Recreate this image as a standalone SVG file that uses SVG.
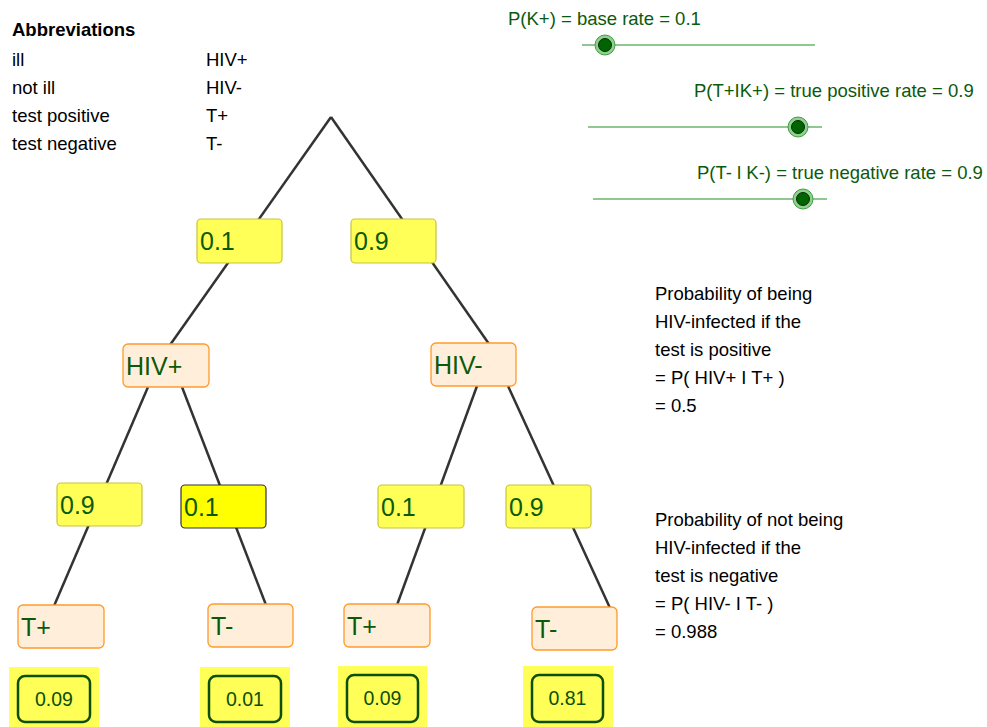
<svg xmlns="http://www.w3.org/2000/svg" width="987" height="727" viewBox="0 0 987 727">
<style>
  .txt{font-family:"Liberation Sans",Arial,sans-serif;font-size:18.5px;fill:#000}
  .bold{font-weight:bold}
  .gtxt{font-family:"Liberation Sans",Arial,sans-serif;font-size:18.5px;fill:#0b5a0b}
  .btxt{font-family:"Liberation Sans",Arial,sans-serif;font-size:25px;fill:#0b5a0b}
  .rtxt{font-family:"Liberation Sans",Arial,sans-serif;font-size:19.5px;fill:#0b4f0b;text-anchor:middle}
  .prob{fill:#ffff57;stroke:#c9c43a;stroke-width:1.2}
  .probsel{fill:#ffff00;stroke:#333333;stroke-width:1.2}
  .node{fill:#ffeed9;stroke:#ff9a2a;stroke-width:1.3}
  .resbg{fill:#ffff57}
  .res{fill:none;stroke:#0b4f0b;stroke-width:2.5}
  .edge{stroke:#333333;stroke-width:2.5;fill:none}
  .track{stroke:#6db56d;stroke-width:1.5}
  .knobo{fill:#8fd08f;stroke:#3f9f3f;stroke-width:1}
  .knobi{fill:#006400;stroke:#0a2a0a;stroke-width:1}
</style>

<g id="abbreviations">
  <text class="txt bold" x="12" y="36">Abbreviations</text>
  <text class="txt" x="12" y="66">ill</text>
  <text class="txt" x="12" y="94">not ill</text>
  <text class="txt" x="12" y="122">test positive</text>
  <text class="txt" x="12" y="150">test negative</text>
  <text class="txt" x="206" y="66">HIV+</text>
  <text class="txt" x="206" y="94">HIV-</text>
  <text class="txt" x="206" y="122">T+</text>
  <text class="txt" x="206" y="150">T-</text>
</g>

<g id="sliders">
  <g id="slider-base-rate">
    <text class="gtxt" x="508" y="25">P(K+) = base rate = 0.1</text>
    <line class="track" x1="582" y1="45" x2="815" y2="45"/>
    <circle class="knobo" cx="605" cy="45" r="10"/>
    <circle class="knobi" cx="605" cy="45" r="6.5"/>
  </g>
  <g id="slider-tpr">
    <text class="gtxt" x="694" y="97">P(T+IK+) = true positive rate = 0.9</text>
    <line class="track" x1="588" y1="127" x2="822" y2="127"/>
    <circle class="knobo" cx="798" cy="127" r="10"/>
    <circle class="knobi" cx="798" cy="127" r="6.5"/>
  </g>
  <g id="slider-tnr">
    <text class="gtxt" x="697" y="179">P(T- l K-) = true negative rate = 0.9</text>
    <line class="track" x1="593" y1="199" x2="827" y2="199"/>
    <circle class="knobo" cx="803" cy="199" r="10"/>
    <circle class="knobi" cx="803" cy="199" r="6.5"/>
  </g>
</g>

<g id="connectors">
  <line class="edge" x1="331" y1="117" x2="170" y2="345"/>
  <line class="edge" x1="331" y1="117" x2="489" y2="344"/>
  <line class="edge" x1="148" y1="387" x2="54" y2="606"/>
  <line class="edge" x1="182" y1="387" x2="266" y2="605"/>
  <line class="edge" x1="477" y1="386" x2="397" y2="605"/>
  <line class="edge" x1="508" y1="386" x2="610" y2="608"/>
</g>

<g id="p-hivpos">
  <rect class="prob" x="197" y="219" width="85" height="44" rx="4"/>
  <text class="btxt" x="200" y="250">0.1</text>
</g>
<g id="p-hivneg">
  <rect class="prob" x="351" y="219" width="85" height="44" rx="4"/>
  <text class="btxt" x="354" y="250">0.9</text>
</g>

<g id="hivpos">
  <rect class="node" x="123" y="344" width="86" height="43" rx="5"/>
  <text class="btxt" x="126" y="375">HIV+</text>
</g>
<g id="hivneg">
  <rect class="node" x="431" y="343" width="85" height="43" rx="5"/>
  <text class="btxt" x="434" y="374">HIV-</text>
</g>

<g id="p-tpos-hivpos">
  <rect class="prob" x="57" y="483" width="85" height="43" rx="4"/>
  <text class="btxt" x="60" y="514">0.9</text>
</g>
<g id="p-tneg-hivpos">
  <rect class="probsel" x="181" y="485" width="85" height="43" rx="4"/>
  <text class="btxt" x="184" y="516">0.1</text>
</g>
<g id="p-tpos-hivneg">
  <rect class="prob" x="378" y="485" width="86" height="43" rx="4"/>
  <text class="btxt" x="381" y="516">0.1</text>
</g>
<g id="p-tneg-hivneg">
  <rect class="prob" x="506" y="485" width="85" height="43" rx="4"/>
  <text class="btxt" x="509" y="516">0.9</text>
</g>

<g id="tpos-1">
  <rect class="node" x="18" y="605" width="86" height="43" rx="5"/>
  <text class="btxt" x="21" y="636">T+</text>
</g>
<g id="tneg-1">
  <rect class="node" x="208" y="604" width="85" height="43" rx="5"/>
  <text class="btxt" x="211" y="635">T-</text>
</g>
<g id="tpos-2">
  <rect class="node" x="344" y="604" width="86" height="43" rx="5"/>
  <text class="btxt" x="347" y="635">T+</text>
</g>
<g id="tneg-2">
  <rect class="node" x="532" y="607" width="85" height="43" rx="5"/>
  <text class="btxt" x="535" y="638">T-</text>
</g>

<g id="res-1">
  <rect class="resbg" x="9" y="667" width="90" height="60"/>
  <rect class="res" x="18" y="676" width="72" height="46" rx="7"/>
  <text class="rtxt" x="54" y="706">0.09</text>
</g>
<g id="res-2">
  <rect class="resbg" x="200" y="667" width="90" height="60"/>
  <rect class="res" x="209" y="676" width="72" height="46" rx="7"/>
  <text class="rtxt" x="245" y="706">0.01</text>
</g>
<g id="res-3">
  <rect class="resbg" x="338" y="666" width="89" height="61"/>
  <rect class="res" x="347" y="675" width="71" height="47" rx="7"/>
  <text class="rtxt" x="382.500" y="705">0.09</text>
</g>
<g id="res-4">
  <rect class="resbg" x="523" y="666" width="90" height="61"/>
  <rect class="res" x="532" y="675" width="71" height="47" rx="7"/>
  <text class="rtxt" x="567.500" y="705">0.81</text>
</g>

<g id="result-positive">
  <text class="txt" x="655" y="300">Probability of being</text>
  <text class="txt" x="655" y="328">HIV-infected if the</text>
  <text class="txt" x="655" y="356">test is positive</text>
  <text class="txt" x="655" y="384">= P( HIV+ I T+ )</text>
  <text class="txt" x="655" y="412">= 0.5</text>
</g>
<g id="result-negative">
  <text class="txt" x="655" y="526">Probability of not being</text>
  <text class="txt" x="655" y="554">HIV-infected if the</text>
  <text class="txt" x="655" y="582">test is negative</text>
  <text class="txt" x="655" y="610">= P( HIV- I T- )</text>
  <text class="txt" x="655" y="638">= 0.988</text>
</g>
</svg>
